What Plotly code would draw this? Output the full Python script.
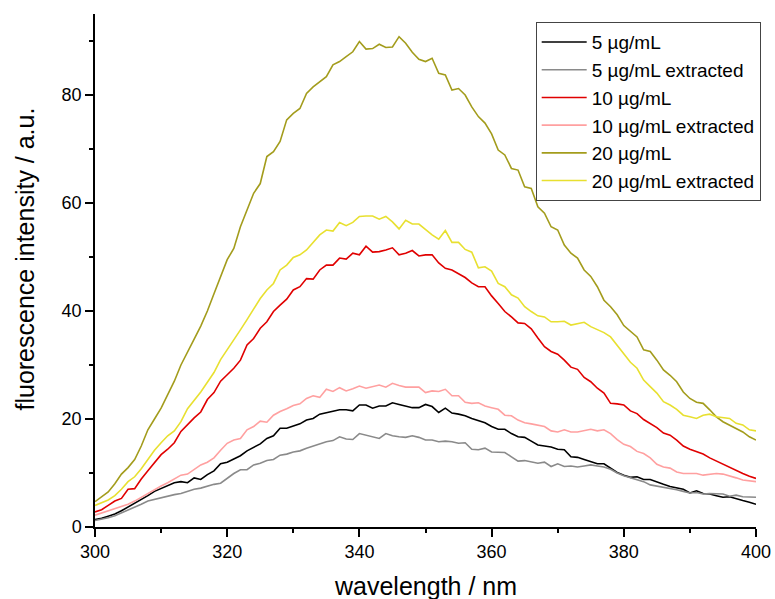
import plotly.graph_objects as go

# Emission wavelengths (nm), 1 nm steps
wavelength = list(range(300, 401))

# Fluorescence intensity (a.u.) per sample
conc_5 = [1.4, 1.6, 2.0, 2.4, 3.0, 3.7, 4.3, 5.0, 5.8, 6.6,
          7.1, 7.6, 8.2, 8.4, 8.2, 9.1, 8.8, 9.7, 10.4, 11.7,
          12.0, 12.6, 13.2, 14.1, 14.8, 15.4, 16.4, 16.9, 18.3, 18.3,
          18.7, 19.1, 19.8, 20.1, 20.9, 21.2, 21.5, 21.7, 21.7, 21.5,
          22.6, 22.6, 22.0, 22.4, 22.4, 23.0, 22.7, 22.4, 22.1, 22.1,
          22.7, 22.3, 21.2, 22.0, 21.1, 20.9, 20.6, 20.1, 19.7, 19.3,
          18.6, 18.1, 18.1, 17.3, 16.7, 16.6, 15.9, 15.2, 15.0, 14.8,
          14.4, 14.3, 13.0, 12.9, 12.5, 12.1, 11.7, 11.7, 10.9, 10.1,
          9.6, 9.2, 9.3, 8.8, 8.8, 8.3, 7.9, 7.5, 7.2, 7.0,
          6.3, 6.7, 6.2, 6.1, 5.8, 5.5, 5.6, 5.2, 4.9, 4.6,
          4.2]

conc_5_ext = [1.2, 1.4, 1.7, 2.1, 2.6, 3.1, 3.6, 4.2, 4.8, 5.1,
              5.5, 5.7, 6.0, 6.2, 6.6, 7.0, 7.2, 7.6, 7.9, 8.1,
              9.0, 9.9, 10.6, 10.6, 11.5, 11.8, 12.3, 12.5, 13.3, 13.5,
              13.9, 14.1, 14.6, 15.0, 15.5, 15.8, 16.0, 16.7, 16.3, 16.2,
              17.3, 17.0, 16.7, 16.4, 17.3, 16.9, 16.7, 16.6, 16.9, 16.6,
              16.1, 16.1, 15.8, 15.9, 15.8, 15.5, 15.6, 14.4, 14.3, 14.6,
              13.9, 13.9, 13.8, 13.0, 12.2, 12.3, 12.1, 11.8, 12.0, 11.2,
              11.7, 11.2, 11.3, 11.1, 11.3, 11.5, 11.3, 11.1, 10.7, 10.0,
              9.5, 9.1, 8.7, 8.4, 7.8, 7.6, 7.3, 7.1, 6.9, 6.6,
              6.3, 6.4, 6.1, 6.2, 6.2, 6.1, 5.7, 5.9, 5.6, 5.6,
              5.5]

conc_10 = [2.8, 3.2, 4.0, 4.8, 5.3, 7.0, 7.1, 8.9, 10.4, 12.0,
           13.4, 14.4, 15.6, 17.7, 19.0, 20.2, 21.3, 23.6, 24.9, 27.0,
           28.2, 29.4, 30.9, 33.7, 34.9, 36.8, 38.0, 39.9, 41.1, 42.2,
           43.9, 44.5, 46.0, 45.9, 47.6, 48.5, 48.5, 49.8, 49.6, 50.7,
           50.4, 52.0, 50.9, 51.0, 51.3, 51.7, 50.4, 50.7, 51.2, 50.2,
           50.4, 50.4, 48.9, 47.9, 47.6, 46.9, 46.2, 45.2, 44.5, 44.5,
           42.8, 41.4, 39.9, 38.9, 37.8, 37.7, 36.7, 35.0, 33.4, 32.5,
           32.0, 30.9, 29.6, 29.2, 27.7, 26.9, 25.7, 24.8, 22.9, 22.8,
           22.6, 21.5, 21.0, 19.9, 19.2, 18.4, 17.4, 17.0, 16.1, 15.0,
           14.4, 13.9, 13.5, 12.8, 12.2, 11.6, 11.1, 10.4, 9.9, 9.4,
           9.0]

conc_10_ext = [2.2, 2.6, 3.0, 3.4, 3.9, 4.2, 4.8, 5.5, 6.3, 7.0,
               7.6, 8.2, 8.9, 9.6, 9.8, 10.7, 11.5, 12.0, 12.8, 14.2,
               15.5, 16.1, 16.4, 18.0, 18.6, 19.6, 19.4, 20.7, 21.4, 21.9,
               22.5, 22.8, 23.8, 24.3, 24.0, 25.5, 25.1, 25.8, 25.2, 25.6,
               26.1, 25.7, 26.0, 26.3, 25.9, 26.6, 26.2, 25.9, 25.9, 25.9,
               24.9, 25.2, 25.1, 25.5, 24.3, 24.3, 23.1, 22.9, 23.0, 22.4,
               22.1, 21.8, 20.7, 20.6, 19.8, 19.3, 19.1, 18.9, 18.6, 17.8,
               17.6, 18.0, 17.6, 17.6, 17.8, 18.1, 17.8, 18.0, 17.3, 16.2,
               15.3, 14.9, 14.0, 13.6, 12.8, 11.6, 11.1, 10.9, 10.2, 9.9,
               9.9, 9.9, 9.6, 9.8, 9.9, 9.8, 9.5, 9.1, 8.7, 8.5,
               8.4]

conc_20 = [4.7, 5.6, 6.5, 8.0, 9.8, 11.0, 12.5, 15.0, 18.0, 20.0,
           22.0, 24.5, 27.0, 30.0, 32.3, 34.8, 37.2, 40.0, 43.2, 46.5,
           49.5, 51.6, 55.6, 58.7, 61.8, 63.6, 68.6, 69.5, 71.4, 75.4,
           76.6, 77.5, 80.3, 81.5, 82.5, 83.4, 85.6, 86.2, 87.1, 88.0,
           89.9, 88.5, 88.6, 89.4, 88.8, 88.9, 90.8, 89.6, 87.9, 86.6,
           86.2, 86.8, 84.0, 83.7, 80.9, 81.2, 80.0, 77.8, 76.0, 74.8,
           72.8, 69.8, 68.9, 66.4, 66.1, 63.0, 62.7, 59.3, 58.1, 55.6,
           55.0, 52.2, 50.7, 49.8, 47.6, 46.4, 44.5, 42.0, 40.8, 39.3,
           37.3, 36.2, 35.2, 32.8, 32.5, 30.9, 29.1, 28.1, 26.9, 25.0,
           23.8, 23.1, 22.9, 21.7, 20.4, 19.5, 18.9, 18.3, 17.6, 16.7,
           16.1]

conc_20_ext = [4.0, 4.5, 5.0, 5.8, 7.0, 8.4, 9.3, 10.8, 12.5, 14.2,
               15.6, 16.9, 17.8, 19.5, 21.9, 23.4, 25.0, 26.8, 28.6, 31.0,
               32.8, 34.5, 36.5, 38.4, 40.3, 42.3, 43.9, 45.1, 47.6, 48.5,
               49.9, 50.4, 51.3, 52.8, 54.1, 55.0, 54.8, 56.4, 55.8, 56.4,
               57.5, 57.6, 57.6, 57.0, 57.5, 56.5, 55.2, 56.8, 56.1, 56.1,
               55.1, 54.1, 53.3, 54.9, 52.7, 52.7, 51.4, 50.9, 48.0, 48.2,
               47.4, 45.1, 44.5, 43.0, 42.4, 40.8, 39.9, 39.1, 38.9, 38.0,
               38.0, 38.1, 37.4, 37.6, 37.9, 37.1, 36.6, 36.0, 35.2, 33.6,
               32.0, 30.5, 29.4, 27.2, 26.0, 24.8, 23.2, 22.6, 21.8, 20.7,
               20.4, 20.1, 20.7, 20.9, 20.4, 20.2, 20.1, 19.2, 18.9, 18.0,
               17.8]

series_names = ["5 µg/mL", "5 µg/mL extracted", "10 µg/mL",
                "10 µg/mL extracted", "20 µg/mL", "20 µg/mL extracted"]
series_values = [conc_5, conc_5_ext, conc_10, conc_10_ext, conc_20, conc_20_ext]
series_colors = ["#000000", "#8a8a8a", "#e00000", "#ffa0a0", "#a39c1c", "#e8e030"]

FONT = "Arial, 'Liberation Sans', sans-serif"

fig = go.Figure()
for name, vals, col in zip(series_names, series_values, series_colors):
    fig.add_trace(go.Scatter(x=wavelength, y=vals, mode="lines", name=name,
                             line=dict(color=col, width=1.6)))

axis_common = dict(showline=True, linecolor="black", linewidth=1.5,
                   ticks="outside", ticklen=8, tickwidth=1.5, tickcolor="black",
                   showgrid=False, zeroline=False, mirror=False, automargin=False,
                   tickfont=dict(family=FONT, size=18, color="black"))

minor_ticks = dict(dtick=10, ticks="outside", ticklen=4,
                   tickwidth=1.5, tickcolor="black")

fig.update_layout(
    width=775, height=599,
    margin=dict(l=95, r=19, t=14, b=72, autoexpand=False),
    plot_bgcolor="white", paper_bgcolor="white",
    font=dict(family=FONT, color="black"),
    xaxis=dict(range=[300, 400], dtick=20, tick0=300, minor=minor_ticks,
               **axis_common),
    yaxis=dict(range=[0, 95], dtick=20, tick0=0, minor=minor_ticks,
               **axis_common),
    legend=dict(x=0.6667, y=0.984, xanchor="left", yanchor="top",
                bgcolor="white", bordercolor="#444444", borderwidth=1,
                font=dict(family=FONT, size=19, color="black"),
                itemwidth=45, tracegroupgap=0),
    showlegend=True,
    annotations=[
        dict(text="wavelength / nm", xref="paper", yref="paper",
             x=0.5, y=0, xanchor="center", yanchor="middle", yshift=-59,
             showarrow=False, font=dict(family=FONT, size=25, color="black")),
        dict(text="fluorescence intensity / a.u.", xref="paper", yref="paper",
             x=0, y=0.5214, xanchor="center", yanchor="middle", xshift=-70,
             textangle=-90, showarrow=False,
             font=dict(family=FONT, size=25, color="black")),
    ],
)

fig.write_html("out.html")
